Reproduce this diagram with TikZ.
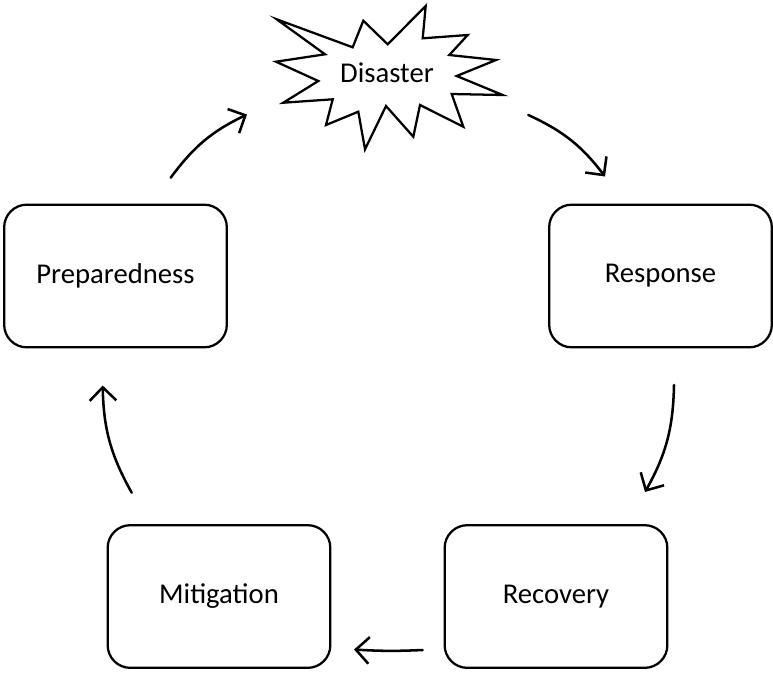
\documentclass[tikz,border=0pt]{standalone}
\usepackage{fontspec}
\setmainfont{Carlito}
\usetikzlibrary{arrows.meta}
\begin{document}
\begin{tikzpicture}[x=0.75pt,y=-0.75pt,
  stage/.style={draw, line width=1.7pt, rounded corners=17pt, minimum width=167pt, minimum height=107pt, inner sep=0pt, font=\fontsize{21.5}{25}\selectfont},
  label/.style={font=\fontsize{21.5}{25}\selectfont, inner sep=0pt},
  flow/.style={line width=1.9pt, -{Straight Barb[length=10pt,width=20pt,line width=1.9pt]}, line cap=round}]
\useasboundingbox (0,0) rectangle (773,672);
\node[stage] (prep) at (115.5,276) {Preparedness};
\node[stage] (resp) at (660.5,276) {Response};
\node[stage] (miti) at (219,596.5) {Mitigation};
\node[stage] (reco) at (556,596.5) {Recovery};
\draw[line width=1.7pt, line join=miter, miter limit=20]
  (276.7,19.3) -- (352.7,47.3) -- (363.3,20.7) -- (387.7,44.3) -- (425.7,6) -- (422.7,38.3)
  -- (467.7,35) -- (449.3,55) -- (496,60) -- (456.7,76) -- (502.7,95) -- (451.7,94)
  -- (463.3,126.7) -- (420,105) -- (413.3,136.7) -- (386,106) -- (365,149.3) -- (358.3,111.7)
  -- (326,125) -- (332.7,99.3) -- (283.3,102.7) -- (318.3,81) -- (276,61.7) -- (325,54.3) -- cycle;
\node[label] (dis) at (387,73) {Disaster};
\coordinate (a1s) at (170.7,177.7);
\coordinate (a1e) at (247,114.5);
\coordinate (a2s) at (528.3,115);
\coordinate (a2e) at (605,176.5);
\coordinate (a3s) at (674,385);
\coordinate (a3e) at (645,492);
\coordinate (a4s) at (422.7,650);
\coordinate (a4e) at (354,649.5);
\coordinate (a5s) at (131.7,492.7);
\coordinate (a5e) at (102.7,385.5);
\draw[flow] (a1s) to[bend left=14] (a1e);
\draw[flow] (a2s) to[bend left=14] (a2e);
\draw[flow] (a3s) to[bend left=14] (a3e);
\draw[flow] (a4s) to[bend left=3] (a4e);
\draw[flow] (a5s) to[bend left=14] (a5e);
\end{tikzpicture}
\end{document}
